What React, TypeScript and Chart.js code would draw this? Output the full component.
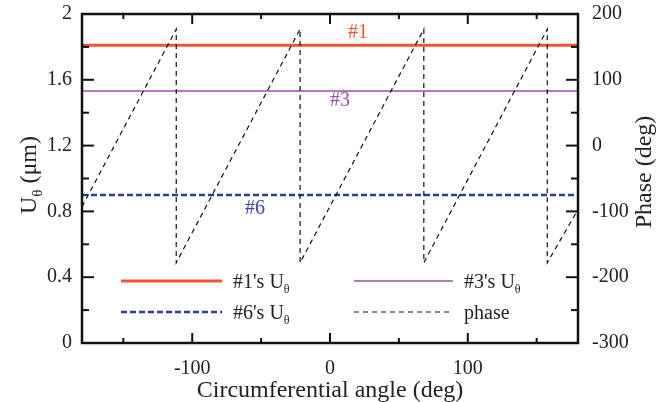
import React, { useEffect, useRef } from "react";
import { Chart, registerables } from "chart.js";

Chart.register(...registerables);

// Circumferential angle span shared by the constant U_theta lines
const angleSpan = [-180, 180];
const u1Values = [1.81, 1.81];
const u3Values = [1.532, 1.532];
const u6Values = [0.9, 0.9];

// Phase (sawtooth with wrap-around jumps)
const phaseAngles = [-180, -111.6, -111.6, -21.7, -21.7, 68.1, 68.1, 157.7, 157.7, 180];
const phaseValues = [-93, 177, -178, 177, -178, 177, -178, 177, -178, -97];

// Tick values
const xMajor = [-100, 0, 100];
const xMinor = [-150, -50, 50, 150];
const leftMajor = [0, 0.4, 0.8, 1.2, 1.6, 2];
const leftLabels = ["0", "0.4", "0.8", "1.2", "1.6", "2"];
const leftMinor = [0.2, 0.6, 1.0, 1.4, 1.8];
const rightMajor = [-300, -200, -100, 0, 100, 200];
const rightMinor = [-250, -150, -50, 50, 150];

const FONT = '"Liberation Serif", "Times New Roman", serif';
const RED = "#f0562e";
const PURPLE = "#9a4fa6";
const BLUE = "#2f3b9c";
const BLUE_TEXT = "#3b48a8";

type Part = { t: string; sub?: boolean };

function partsWidth(ctx: CanvasRenderingContext2D, parts: Part[], size: number) {
  let w = 0;
  for (const p of parts) {
    ctx.font = `${p.sub ? Math.round(size * 0.62) : size}px ${FONT}`;
    w += ctx.measureText(p.t).width;
  }
  return w;
}

function drawParts(ctx: CanvasRenderingContext2D, parts: Part[], x: number, y: number, size: number) {
  let cx = x;
  ctx.textAlign = "left";
  ctx.textBaseline = "alphabetic";
  for (const p of parts) {
    const s = p.sub ? Math.round(size * 0.62) : size;
    ctx.font = `${s}px ${FONT}`;
    ctx.fillText(p.t, cx, p.sub ? y + size * 0.25 : y);
    cx += ctx.measureText(p.t).width;
  }
}

const decorations = {
  id: "decorations",
  afterDraw(chart: any) {
    const ctx: CanvasRenderingContext2D = chart.ctx;
    const { left, right, top, bottom } = chart.chartArea;
    const xs = chart.scales.x;
    const yl = chart.scales.y;
    const yr = chart.scales.y1;
    ctx.save();

    // frame
    ctx.strokeStyle = "#111";
    ctx.lineWidth = 2.5;
    ctx.setLineDash([]);
    ctx.strokeRect(left, top, right - left, bottom - top);

    // inward ticks
    ctx.lineWidth = 2;
    const hTick = (v: number, len: number) => {
      const px = xs.getPixelForValue(v);
      ctx.beginPath();
      ctx.moveTo(px, bottom);
      ctx.lineTo(px, bottom - len);
      ctx.moveTo(px, top);
      ctx.lineTo(px, top + len);
      ctx.stroke();
    };
    xMajor.forEach((v) => hTick(v, 10));
    xMinor.forEach((v) => hTick(v, 5));
    const lTick = (v: number, len: number) => {
      const py = yl.getPixelForValue(v);
      ctx.beginPath();
      ctx.moveTo(left, py);
      ctx.lineTo(left + len, py);
      ctx.stroke();
    };
    leftMajor.forEach((v) => lTick(v, 12));
    leftMinor.forEach((v) => lTick(v, 7));
    const rTick = (v: number, len: number) => {
      const py = yr.getPixelForValue(v);
      ctx.beginPath();
      ctx.moveTo(right, py);
      ctx.lineTo(right - len, py);
      ctx.stroke();
    };
    rightMajor.forEach((v) => rTick(v, 12));
    rightMinor.forEach((v) => rTick(v, 7));

    // axis titles
    ctx.fillStyle = "#222";
    ctx.font = `24px ${FONT}`;
    ctx.textAlign = "center";
    ctx.textBaseline = "alphabetic";
    ctx.fillText("Circumferential angle (deg)", (left + right) / 2, 397);

    const leftTitle: Part[] = [{ t: "U" }, { t: "θ", sub: true }, { t: " (μm)" }];
    ctx.save();
    ctx.translate(36, 175);
    ctx.rotate(-Math.PI / 2);
    drawParts(ctx, leftTitle, -partsWidth(ctx, leftTitle, 24) / 2, 0, 24);
    ctx.restore();

    const rightTitle: Part[] = [{ t: "Phase (deg)" }];
    ctx.save();
    ctx.translate(651, 172);
    ctx.rotate(-Math.PI / 2);
    drawParts(ctx, rightTitle, -partsWidth(ctx, rightTitle, 24) / 2, 0, 24);
    ctx.restore();

    // line tags
    ctx.font = `20px ${FONT}`;
    ctx.textAlign = "center";
    ctx.textBaseline = "middle";
    ctx.fillStyle = RED;
    ctx.fillText("#1", 358, 33);
    ctx.fillStyle = PURPLE;
    ctx.fillText("#3", 340, 101);
    ctx.fillStyle = BLUE_TEXT;
    ctx.fillText("#6", 255, 209);

    // legend
    const legendRows = [
      { x0: 121, x1: 222, y: 281, color: RED, width: 3, dash: [] as number[], parts: [{ t: "#1's U" }, { t: "θ", sub: true }] },
      { x0: 354, x1: 453, y: 281, color: PURPLE, width: 1.5, dash: [] as number[], parts: [{ t: "#3's U" }, { t: "θ", sub: true }] },
      { x0: 121, x1: 222, y: 312, color: BLUE, width: 2.5, dash: [6, 3], parts: [{ t: "#6's U" }, { t: "θ", sub: true }] },
      { x0: 354, x1: 453, y: 312, color: "#111", width: 1.2, dash: [5, 4], parts: [{ t: "phase" }] },
    ];
    for (const r of legendRows) {
      ctx.strokeStyle = r.color;
      ctx.lineWidth = r.width;
      ctx.setLineDash(r.dash);
      ctx.beginPath();
      ctx.moveTo(r.x0, r.y);
      ctx.lineTo(r.x1, r.y);
      ctx.stroke();
      ctx.setLineDash([]);
      ctx.fillStyle = "#222";
      drawParts(ctx, r.parts as Part[], r.x1 + 11, r.y + 7, 20);
    }

    ctx.restore();
  },
};

const zeroPadding = (s: any) => {
  s.paddingTop = 0;
  s.paddingBottom = 0;
  s.paddingLeft = 0;
  s.paddingRight = 0;
};

export default function App() {
  const ref = useRef<HTMLCanvasElement | null>(null);

  useEffect(() => {
    if (!ref.current) return;
    const toPts = (xv: number[], yv: number[]) => xv.map((x, i) => ({ x, y: yv[i] }));
    const tickFont = { family: FONT, size: 20 };
    const noGrid = { display: false, drawTicks: false };
    const chart = new Chart(ref.current, {
      type: "line",
      data: {
        datasets: [
          {
            label: "phase",
            data: toPts(phaseAngles, phaseValues),
            yAxisID: "y1",
            borderColor: "#111",
            borderWidth: 1.2,
            borderDash: [5, 4],
            pointRadius: 0,
            order: 0,
          },
          {
            label: "#1's Uθ",
            data: toPts(angleSpan, u1Values),
            yAxisID: "y",
            borderColor: RED,
            borderWidth: 3,
            pointRadius: 0,
            order: 1,
          },
          {
            label: "#3's Uθ",
            data: toPts(angleSpan, u3Values),
            yAxisID: "y",
            borderColor: PURPLE,
            borderWidth: 1.5,
            pointRadius: 0,
            order: 2,
          },
          {
            label: "#6's Uθ",
            data: toPts(angleSpan, u6Values),
            yAxisID: "y",
            borderColor: BLUE,
            borderWidth: 2.5,
            borderDash: [6, 3],
            pointRadius: 0,
            order: 3,
          },
        ],
      },
      options: {
        responsive: false,
        animation: false,
        devicePixelRatio: 1,
        layout: { padding: { top: 14, left: 0, right: 0, bottom: 0 } },
        plugins: { legend: { display: false }, tooltip: { enabled: false } },
        scales: {
          x: {
            type: "linear",
            min: -180,
            max: 180,
            grid: noGrid,
            border: { display: false },
            afterBuildTicks: (s: any) => {
              s.ticks = xMajor.map((v) => ({ value: v }));
            },
            afterFit: (s: any) => {
              zeroPadding(s);
              s.height = 59;
            },
            ticks: { font: tickFont, color: "#222", padding: 14, maxRotation: 0 },
          },
          y: {
            type: "linear",
            position: "left",
            min: 0,
            max: 2,
            grid: noGrid,
            border: { display: false },
            afterBuildTicks: (s: any) => {
              s.ticks = leftMajor.map((v) => ({ value: v }));
            },
            afterFit: (s: any) => {
              zeroPadding(s);
              s.width = 82;
            },
            ticks: {
              font: tickFont,
              color: "#222",
              padding: 10,
              callback: (v: any) => leftLabels[leftMajor.findIndex((m) => Math.abs(m - v) < 1e-6)] ?? "",
            },
          },
          y1: {
            type: "linear",
            position: "right",
            min: -300,
            max: 200,
            grid: noGrid,
            border: { display: false },
            afterBuildTicks: (s: any) => {
              s.ticks = rightMajor.map((v) => ({ value: v }));
            },
            afterFit: (s: any) => {
              zeroPadding(s);
              s.width = 86;
            },
            ticks: { font: tickFont, color: "#222", padding: 14 },
          },
        },
      },
      plugins: [decorations],
    });
    return () => chart.destroy();
  }, []);

  return (
    <div style={{ position: "fixed", left: 0, top: 0, width: 664, height: 402, background: "#fff" }}>
      <canvas ref={ref} width={664} height={402} style={{ display: "block" }} />
    </div>
  );
}
